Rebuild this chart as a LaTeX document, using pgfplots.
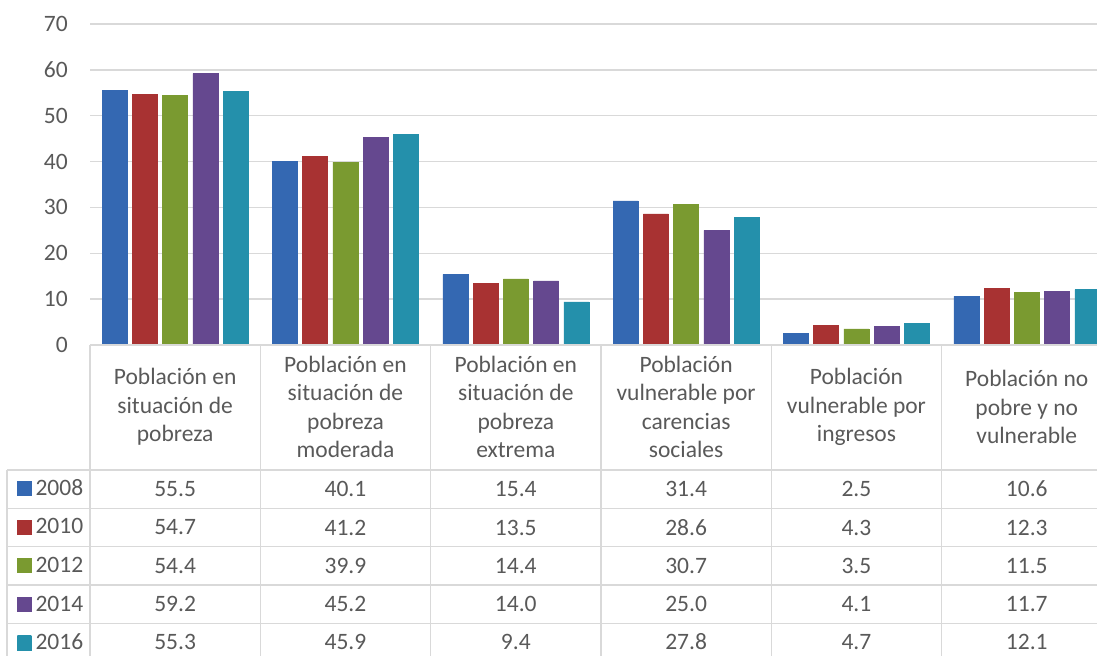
\documentclass[border=0pt]{standalone}
\usepackage{pgfplots}
\pgfplotsset{compat=1.18}
\usepackage{pgfplotstable}
\usepackage{fontspec}
\setmainfont{Carlito}
\definecolor{txt}{HTML}{595959}
\definecolor{grid}{HTML}{D9D9D9}
\definecolor{bM}{HTML}{4F90DC}\definecolor{bD}{HTML}{3468B2}
\definecolor{rM}{HTML}{DE4A4A}\definecolor{rD}{HTML}{A83232}
\definecolor{gM}{HTML}{A8C94A}\definecolor{gD}{HTML}{7A9A30}
\definecolor{pM}{HTML}{8F68BE}\definecolor{pD}{HTML}{65488F}
\definecolor{cM}{HTML}{3CBCDB}\definecolor{cD}{HTML}{2490AB}
\newcommand{\bigf}{\fontsize{23.5bp}{28.5bp}\selectfont}

\pgfplotstableread{
x  a     b     c     d     e
0  55.5  54.7  54.4  59.2  55.3
1  40.1  41.2  39.9  45.2  45.9
2  15.4  13.5  14.4  14.0  9.4
3  31.4  28.6  30.7  25.0  27.8
4  2.5   4.3   3.5   4.1   4.7
5  10.6  12.3  11.5  11.7  12.1
}\data

\begin{document}
\begin{tikzpicture}[x=1bp,y=1bp]
\path[use as bounding box] (0,0) rectangle (1097,656);
\begin{axis}[
  at={(90bp,311bp)}, anchor=south west,
  scale only axis, width=1022bp, height=321bp,
  xmin=-0.5, xmax=5.5, ymin=0, ymax=70,
  ytick={0,10,...,70},
  xtick={0,...,5},
  xticklabels={{Población en\\situación de\\pobreza},
    {Población en\\situación de\\pobreza\\moderada},
    {Población en\\situación de\\pobreza\\extrema},
    {Población\\vulnerable por\\carencias\\sociales},
    {Población\\vulnerable por\\ingresos},
    {Población no\\pobre y no\\vulnerable}},
  xticklabel style={anchor=center, yshift=-62bp, align=center, inner sep=0pt, font=\bigf, text=txt},
  yticklabel style={anchor=east, inner sep=0pt, xshift=-22bp, font=\bigf, text=txt},
  /pgf/number format/assume math mode=true,
  major tick length=0pt,
  axis line style={draw=none},
  ymajorgrids, major grid style={draw=grid, line width=1.4bp},
  clip=false,
  legend cell align=left,
  legend image code/.code={\draw[#1, line width=0.5bp] (0bp,-7.5bp) rectangle (14bp,6.5bp);},
  legend style={at={(axis description cs:-0.0714,-0.4220)}, anchor=north west,
    draw=none, fill=none, inner sep=0pt, outer sep=0pt, row sep=23.5bp, column sep=4bp,
    font=\bigf, text=txt, nodes={inner sep=0pt, text height=14.8bp, text depth=0pt}},
  tv/.style={forget plot, draw=none, mark=none, point meta=explicit,
    nodes near coords={\pgfmathprintnumber[fixed,fixed zerofill,precision=1]{\pgfplotspointmeta}},
    every node near coord/.append style={anchor=center, font=\bigf, text=txt, inner sep=0pt}},
  bs/.style={ybar, bar width=25bp, line width=0.5bp},
]
\addplot[bs, bar shift=-60.5bp, draw=bD, left color=bD, middle color=bM, right color=bD] table[x=x,y=a]{\data};
\addlegendentry{2008}
\addplot[bs, bar shift=-30.25bp, draw=rD, left color=rD, middle color=rM, right color=rD] table[x=x,y=b]{\data};
\addlegendentry{2010}
\addplot[bs, bar shift=0bp, draw=gD, left color=gD, middle color=gM, right color=gD] table[x=x,y=c]{\data};
\addlegendentry{2012}
\addplot[bs, bar shift=30.25bp, draw=pD, left color=pD, middle color=pM, right color=pD] table[x=x,y=d]{\data};
\addlegendentry{2014}
\addplot[bs, bar shift=60.5bp, draw=cD, left color=cD, middle color=cM, right color=cD] table[x=x,y=e]{\data};
\addlegendentry{2016}
% table values
\addplot[tv] table[x=x, y expr=-31.40, meta=a]{\data};
\addplot[tv] table[x=x, y expr=-39.80, meta=b]{\data};
\addplot[tv] table[x=x, y expr=-48.19, meta=c]{\data};
\addplot[tv] table[x=x, y expr=-56.48, meta=d]{\data};
\addplot[tv] table[x=x, y expr=-64.77, meta=e]{\data};
\end{axis}
% data table grid
\begin{scope}[draw=grid, line width=1.5bp]
\draw (90,311) -- (1112,311);
\foreach \r in {470,508.3,546.7,585,623.3} \draw (7,656-\r) -- (1112,656-\r);
\draw (7,186) -- (7,-10);
\foreach \k in {0,...,6} \draw ({90+\k*170.333},311) -- ({90+\k*170.333},-10);
\end{scope}
\end{tikzpicture}
\end{document}
